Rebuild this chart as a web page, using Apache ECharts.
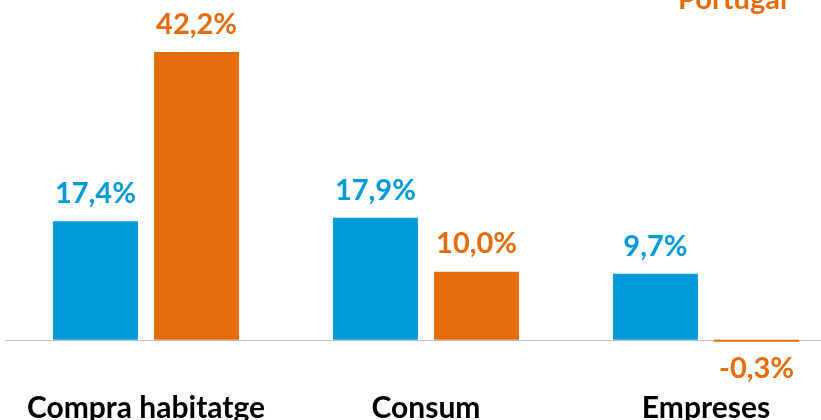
<!DOCTYPE html>
<html>
<head>
<meta charset="utf-8">
<script src="https://cdn.jsdelivr.net/npm/echarts@6/dist/echarts.min.js"></script>
<style>
  html, body { margin: 0; padding: 0; background: #ffffff; }
  #chart { width: 821px; height: 420px; }
</style>
</head>
<body>
<div id="chart"></div>
<script>
// Credit growth by segment, Spain vs Portugal (%)
const categories = ['Compra habitatge', 'Consum', 'Empreses'];
const espanya = [17.4, 17.9, 9.7];
const portugal = [42.2, 10.0, -0.3];
const seriesNames = ['Espanya', 'Portugal'];

const BLUE = '#009ad8';
const ORANGE = '#e46c0a';
const FONT = 'Lato';

const fmt = v => v.toFixed(1).replace('.', ',') + '%';

function barData(values) {
  return values.map(v => ({
    value: v,
    label: v < 0 ? { position: 'bottom', distance: 12 } : { position: 'top', distance: 13 }
  }));
}

function barSeries(name, values, color) {
  return {
    name: name,
    type: 'bar',
    data: barData(values),
    barWidth: 85,
    barGap: '19%',
    itemStyle: { color: color },
    label: {
      show: true,
      color: color,
      fontFamily: FONT,
      fontWeight: 'bold',
      fontSize: 29,
      formatter: p => fmt(p.value)
    },
    emphasis: { disabled: true }
  };
}

const chart = echarts.init(document.getElementById('chart'), null, { renderer: 'canvas' });
chart.setOption({
  animation: false,
  backgroundColor: '#ffffff',
  grid: { left: 6, width: 840, top: 33, height: 375, containLabel: false, outerBoundsMode: 'none' },
  xAxis: {
    type: 'category',
    data: categories,
    axisLine: { onZero: true, lineStyle: { color: '#bfbfbf', width: 1 } },
    axisTick: { show: false },
    axisLabel: {
      margin: -15,
      color: '#000000',
      fontFamily: FONT,
      fontWeight: 'bold',
      fontSize: 30,
      interval: 0
    }
  },
  yAxis: {
    type: 'value',
    min: -10,
    max: 45,
    show: false,
    splitLine: { show: false }
  },
  graphic: [{
    type: 'text',
    left: 678,
    top: -15,
    style: {
      text: seriesNames[1],
      fill: ORANGE,
      font: 'bold 29px ' + FONT
    }
  }],
  series: [
    barSeries(seriesNames[0], espanya, BLUE),
    barSeries(seriesNames[1], portugal, ORANGE)
  ]
});
</script>
</body>
</html>
